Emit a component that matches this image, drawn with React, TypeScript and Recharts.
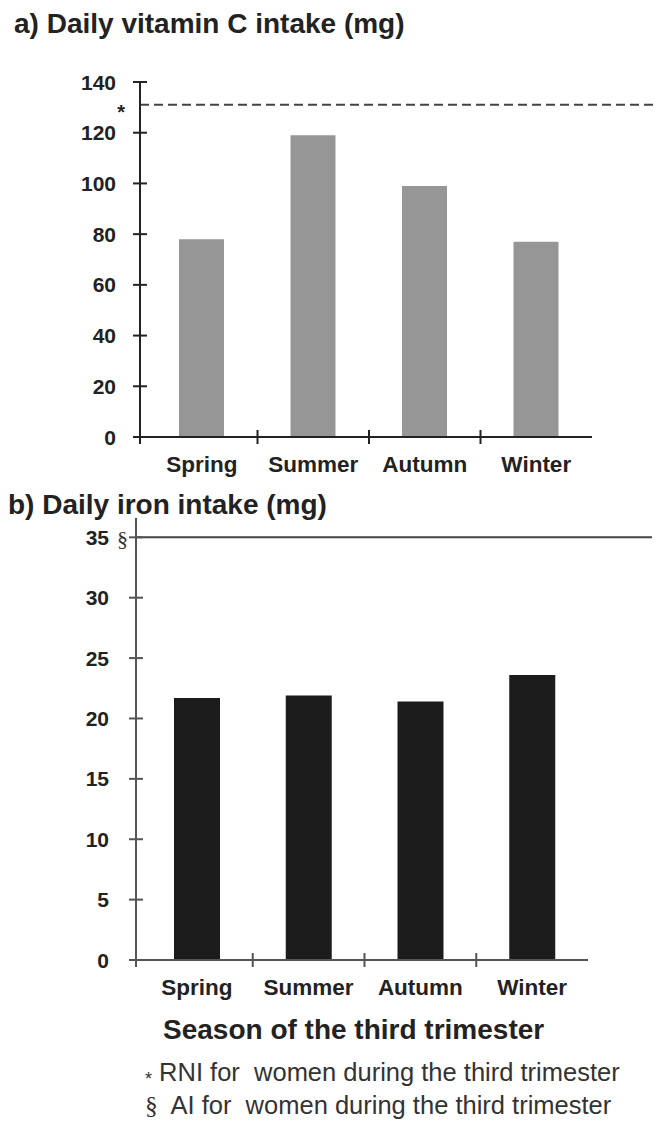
import React from 'react';
import { BarChart, Bar, XAxis, YAxis, ReferenceLine } from 'recharts';

// Datos
const estaciones = ['Spring', 'Summer', 'Autumn', 'Winter'];
const vitaminaC = [78, 119, 99, 77];
const hierro = [21.7, 21.9, 21.4, 23.6];
const ticksVitaminaC = [0, 20, 40, 60, 80, 100, 120, 140];
const ticksHierro = [0, 5, 10, 15, 20, 25, 30, 35];
const rniVitaminaC = 131;
const aiHierro = 35;

const FONT = '"Liberation Sans", Arial, Helvetica, sans-serif';
const SERIF = '"Liberation Serif", "Times New Roman", serif';

const datosA = estaciones.map((season, i) => ({ season, valor: vitaminaC[i] }));
const datosB = estaciones.map((season, i) => ({ season, valor: hierro[i] }));

// Tick del eje Y: marca que cruza el eje + número
const makeYTick = (color: string, gap: number) => (props: any) => {
  const { x, y, payload } = props;
  return (
    <g>
      <line x1={x - 7} x2={x + 7} y1={y} y2={y} stroke={color} strokeWidth={2} />
      <text x={x - gap} y={y} dy="0.36em" textAnchor="end" fontFamily={FONT} fontWeight="bold" fontSize={21} fill="#222">
        {payload.value}
      </text>
    </g>
  );
};

// Tick del eje X: marca en el borde izquierdo de cada categoría + nombre centrado
const makeXTick = (color: string, band: number, padLeft: number) => (props: any) => {
  const { x, y, payload, index } = props;
  const bx = x - band / 2 - (index === 0 ? padLeft : 0);
  return (
    <g>
      <line x1={bx} x2={bx} y1={y - 7} y2={y + 7} stroke={color} strokeWidth={2} />
      <text x={x} y={y + 27} dy="0.36em" textAnchor="middle" fontFamily={FONT} fontWeight="bold" fontSize={22.5} fill="#222">
        {payload.value}
      </text>
    </g>
  );
};

const lineaExtendida = (extra: number) => (props: any) => (
  <line
    x1={props.x1}
    y1={props.y1}
    x2={props.x2 + extra}
    y2={props.y2}
    stroke={props.stroke}
    strokeWidth={props.strokeWidth}
    strokeDasharray={props.strokeDasharray}
  />
);

export default function App() {
  return (
    <div style={{ position: 'absolute', left: 0, top: 0, width: 659, height: 1122, background: '#fff', fontFamily: FONT, color: '#222' }}>
      <div style={{ position: 'absolute', left: 14, top: 10, fontSize: 28, lineHeight: 1, fontWeight: 'bold', whiteSpace: 'pre' }}>
        a) Daily vitamin C intake (mg)
      </div>

      {/* a) Vitamina C */}
      <div style={{ position: 'absolute', left: 0, top: 0 }}>
        <BarChart width={659} height={480} data={datosA} margin={{ top: 82, right: 67, bottom: 0, left: 0 }}>
          <XAxis
            dataKey="season"
            height={43}
            interval={0}
            padding={{ left: 6, right: 0 }}
            axisLine={{ stroke: '#222', strokeWidth: 2 }}
            tickLine={false}
            tickSize={0}
            tickMargin={0}
            tick={makeXTick('#222', 111.5, 6)}
          />
          <YAxis
            width={140}
            domain={[0, 140]}
            ticks={ticksVitaminaC}
            interval={0}
            axisLine={{ stroke: '#222', strokeWidth: 2 }}
            tickLine={false}
            tickSize={0}
            tickMargin={0}
            tick={makeYTick('#222', 24)}
          />
          <ReferenceLine
            y={rniVitaminaC}
            stroke="#444"
            strokeWidth={2}
            strokeDasharray="9 5"
            shape={lineaExtendida(61)}
            label={(p: any) => (
              <text x={p.viewBox.x - 15} y={p.viewBox.y + 14} textAnchor="end" fontFamily={FONT} fontWeight="bold" fontSize={20} fill="#222">
                *
              </text>
            )}
          />
          <Bar dataKey="valor" fill="#969696" barSize={45} isAnimationActive={false} />
        </BarChart>
      </div>

      <div style={{ position: 'absolute', left: 8, top: 491, fontSize: 28, lineHeight: 1, fontWeight: 'bold', whiteSpace: 'pre' }}>
        b) Daily iron intake (mg)
      </div>

      {/* b) Hierro */}
      <div style={{ position: 'absolute', left: 0, top: 480 }}>
        <BarChart width={659} height={520} data={datosB} margin={{ top: 38, right: 71, bottom: 0, left: 0 }}>
          <XAxis
            dataKey="season"
            height={40}
            interval={0}
            padding={{ left: 5, right: 0 }}
            axisLine={{ stroke: '#555', strokeWidth: 2 }}
            tickLine={false}
            tickSize={0}
            tickMargin={0}
            tick={makeXTick('#555', 111.75, 5)}
          />
          <YAxis
            width={136}
            domain={[0, 36.6]}
            ticks={ticksHierro}
            interval={0}
            axisLine={{ stroke: '#555', strokeWidth: 2 }}
            tickLine={false}
            tickSize={0}
            tickMargin={0}
            tick={makeYTick('#555', 27)}
          />
          <ReferenceLine
            y={aiHierro}
            stroke="#444"
            strokeWidth={2}
            shape={lineaExtendida(64)}
            label={(p: any) => (
              <text x={p.viewBox.x - 8} y={p.viewBox.y + 9} textAnchor="end" fontFamily={SERIF} fontSize={22} fill="#333">
                §
              </text>
            )}
          />
          <Bar dataKey="valor" fill="#1c1c1c" barSize={46} isAnimationActive={false} />
        </BarChart>
      </div>

      <div style={{ position: 'absolute', left: 163, top: 1016, fontSize: 28, lineHeight: 1, fontWeight: 'bold', whiteSpace: 'pre' }}>
        Season of the third trimester
      </div>
      <div style={{ position: 'absolute', left: 145, top: 1060, fontSize: 25.5, lineHeight: 1, whiteSpace: 'pre', color: '#333' }}>
        <span style={{ fontSize: 18, position: 'relative', top: 4 }}>*</span> RNI for  women during the third trimester
      </div>
      <div style={{ position: 'absolute', left: 145, top: 1093, fontSize: 25.5, lineHeight: 1, whiteSpace: 'pre', color: '#333' }}>
        <span style={{ fontFamily: SERIF }}>§</span>  AI for  women during the third trimester
      </div>
    </div>
  );
}
